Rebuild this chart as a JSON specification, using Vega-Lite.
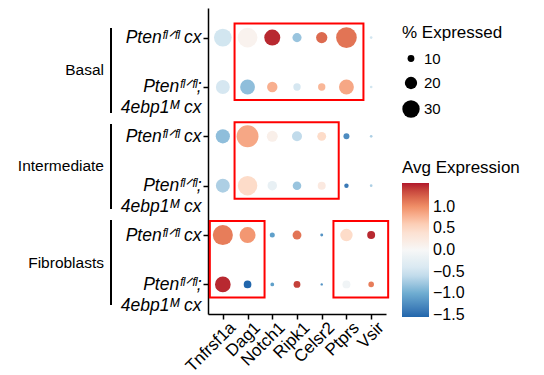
{
  "$schema": "https://vega.github.io/schema/vega-lite/v6.json",
  "padding": {"left": 17, "top": 8, "right": 2, "bottom": 2},
  "background": "white",
  "config": {
    "view": {"stroke": null},
    "font": "Liberation Sans",
    "concat": {"spacing": 8},
    "axis": {"domainColor": "black", "tickColor": "black", "labelColor": "black", "domainWidth": 1.5, "tickWidth": 1.5, "grid": false, "title": null, "tickSize": 5},
    "legend": {"titleFontWeight": "normal", "titleColor": "black", "labelColor": "black", "titleFontSize": 17, "labelFontSize": 16, "offset": -5, "padding": 17}
  },
  "datasets": {
    "groups": [
      {"group": "Basal"},
      {"group": "Intermediate"},
      {"group": "Fibroblasts"}
    ],
    "dots": [
      {"row": "Basal A", "gene": "Tnfrsf1a", "pct": 30.7, "avg": -0.5},
      {"row": "Basal A", "gene": "Dag1", "pct": 34.9, "avg": 0.1},
      {"row": "Basal A", "gene": "Notch1", "pct": 27.2, "avg": 1.5},
      {"row": "Basal A", "gene": "Ripk1", "pct": 14.1, "avg": -0.8},
      {"row": "Basal A", "gene": "Celsr2", "pct": 18.0, "avg": 1.2},
      {"row": "Basal A", "gene": "Ptprs", "pct": 36.8, "avg": 1.15},
      {"row": "Basal A", "gene": "Vsir", "pct": 3.3, "avg": -0.5},
      {"row": "Basal B", "gene": "Tnfrsf1a", "pct": 23.1, "avg": -0.45},
      {"row": "Basal B", "gene": "Dag1", "pct": 24.9, "avg": -0.85},
      {"row": "Basal B", "gene": "Notch1", "pct": 16.4, "avg": 0.8},
      {"row": "Basal B", "gene": "Ripk1", "pct": 10.9, "avg": -0.45},
      {"row": "Basal B", "gene": "Celsr2", "pct": 10.9, "avg": 0.75},
      {"row": "Basal B", "gene": "Ptprs", "pct": 24.9, "avg": 0.85},
      {"row": "Basal B", "gene": "Vsir", "pct": 3.3, "avg": -0.5},
      {"row": "Intermediate A", "gene": "Tnfrsf1a", "pct": 23.6, "avg": -0.85},
      {"row": "Intermediate A", "gene": "Dag1", "pct": 39.4, "avg": 0.85},
      {"row": "Intermediate A", "gene": "Notch1", "pct": 17.4, "avg": 0.15},
      {"row": "Intermediate A", "gene": "Ripk1", "pct": 15.7, "avg": -0.6},
      {"row": "Intermediate A", "gene": "Celsr2", "pct": 13.6, "avg": 0.5},
      {"row": "Intermediate A", "gene": "Ptprs", "pct": 8.5, "avg": -1.25},
      {"row": "Intermediate A", "gene": "Vsir", "pct": 3.3, "avg": -0.7},
      {"row": "Intermediate B", "gene": "Tnfrsf1a", "pct": 23.1, "avg": -0.7},
      {"row": "Intermediate B", "gene": "Dag1", "pct": 34.4, "avg": 0.5},
      {"row": "Intermediate B", "gene": "Notch1", "pct": 14.7, "avg": -0.2},
      {"row": "Intermediate B", "gene": "Ripk1", "pct": 13.1, "avg": -0.8},
      {"row": "Intermediate B", "gene": "Celsr2", "pct": 12.0, "avg": 0.25},
      {"row": "Intermediate B", "gene": "Ptprs", "pct": 6.0, "avg": -1.4},
      {"row": "Intermediate B", "gene": "Vsir", "pct": 3.3, "avg": -0.7},
      {"row": "Fibroblasts A", "gene": "Tnfrsf1a", "pct": 35.6, "avg": 1.1},
      {"row": "Fibroblasts A", "gene": "Dag1", "pct": 27.2, "avg": 0.95},
      {"row": "Fibroblasts A", "gene": "Notch1", "pct": 7.0, "avg": -1.1},
      {"row": "Fibroblasts A", "gene": "Ripk1", "pct": 13.6, "avg": 1.15},
      {"row": "Fibroblasts A", "gene": "Celsr2", "pct": 3.7, "avg": -1.2},
      {"row": "Fibroblasts A", "gene": "Ptprs", "pct": 20.2, "avg": 0.5},
      {"row": "Fibroblasts A", "gene": "Vsir", "pct": 12.0, "avg": 1.5},
      {"row": "Fibroblasts B", "gene": "Tnfrsf1a", "pct": 26.6, "avg": 1.5},
      {"row": "Fibroblasts B", "gene": "Dag1", "pct": 11.5, "avg": -1.55},
      {"row": "Fibroblasts B", "gene": "Notch1", "pct": 5.0, "avg": -1.1},
      {"row": "Fibroblasts B", "gene": "Ripk1", "pct": 10.0, "avg": 1.4},
      {"row": "Fibroblasts B", "gene": "Celsr2", "pct": 2.9, "avg": -1.2},
      {"row": "Fibroblasts B", "gene": "Ptprs", "pct": 12.0, "avg": -0.1},
      {"row": "Fibroblasts B", "gene": "Vsir", "pct": 7.9, "avg": 1.1}
    ],
    "boxes": [
      {"r1": "Basal A", "r2": "Basal B", "g1": "Dag1", "g2": "Ptprs"},
      {"r1": "Intermediate A", "r2": "Intermediate B", "g1": "Dag1", "g2": "Celsr2"},
      {"r1": "Fibroblasts A", "r2": "Fibroblasts B", "g1": "Tnfrsf1a", "g2": "Dag1"},
      {"r1": "Fibroblasts A", "r2": "Fibroblasts B", "g1": "Ptprs", "g2": "Vsir"}
    ]
  },
  "hconcat": [
    {
      "width": 2,
      "height": 306,
      "data": {"name": "groups"},
      "encoding": {
        "y": {
          "field": "group", "type": "nominal", "sort": null, "axis": null,
          "scale": {"domain": ["Basal", "Intermediate", "Fibroblasts"], "paddingInner": 0.115, "paddingOuter": 0.15, "align": 0.69}
        }
      },
      "layer": [
        {"mark": {"type": "rect", "color": "black"}},
        {
          "mark": {"type": "text", "align": "right", "baseline": "middle", "dx": -7, "fontSize": 15.5, "color": "black"},
          "encoding": {"text": {"field": "group"}}
        }
      ]
    },
    {
      "width": 178,
      "height": 306,
      "layer": [
        {
          "data": {"name": "dots"},
          "mark": {"type": "circle", "opacity": 1},
          "encoding": {
            "x": {
              "field": "gene", "type": "nominal",
              "scale": {"type": "point", "padding": 0.6, "domain": ["Tnfrsf1a", "Dag1", "Notch1", "Ripk1", "Celsr2", "Ptprs", "Vsir"]},
              "axis": {"labelAngle": -45, "labelFontSize": 17, "labelPadding": 0, "labelOffset": 4}
            },
            "y": {
              "field": "row", "type": "nominal",
              "scale": {"type": "point", "padding": 0.6, "domain": ["Basal A", "Basal B", "Intermediate A", "Intermediate B", "Fibroblasts A", "Fibroblasts B"]},
              "axis": {
                "labelFontSize": 17.5, "labelFontStyle": "italic", "labelPadding": 2, "labelLineHeight": 21,
                "labelExpr": "slice(datum.value, -1) == 'A' ? 'Ptenᶠˡᐟᶠˡ cx' : ['Ptenᶠˡᐟᶠˡ;', '4ebp1ᴹ cx']"
              }
            },
            "size": {
              "field": "pct", "type": "quantitative",
              "scale": {"type": "pow", "exponent": 1.7, "domain": [0, 40], "range": [0, 492]},
              "legend": {"title": "% Expressed", "values": [10, 20, 30], "symbolFillColor": "black", "symbolStrokeWidth": 0, "symbolOpacity": 1, "labelFontSize": 15, "rowPadding": 8.5, "titlePadding": 9}
            },
            "fill": {
              "field": "avg", "type": "quantitative",
              "scale": {
                "domain": [-1.55, -1.033, -0.517, 0, 0.517, 1.033, 1.55],
                "range": ["#2166ac", "#67a9cf", "#d1e5f0", "#f7f7f7", "#fddbc7", "#ef8a62", "#b2182b"],
                "interpolate": "lab"
              },
              "legend": {"title": "Avg Expression", "values": [-1.5, -1, -0.5, 0, 0.5, 1], "format": ".1f", "gradientLength": 134, "gradientThickness": 27, "direction": "vertical", "labelOffset": 4, "titlePadding": 6}
            }
          }
        },
        {
          "data": {"name": "boxes"},
          "mark": {"type": "rect", "fillOpacity": 0, "stroke": "#ff0000", "strokeWidth": 2, "xOffset": -13, "x2Offset": 17, "yOffset": -14, "y2Offset": 13},
          "encoding": {
            "x": {"field": "g1", "type": "nominal"},
            "x2": {"field": "g2"},
            "y": {"field": "r1", "type": "nominal"},
            "y2": {"field": "r2"}
          }
        }
      ]
    }
  ]
}
